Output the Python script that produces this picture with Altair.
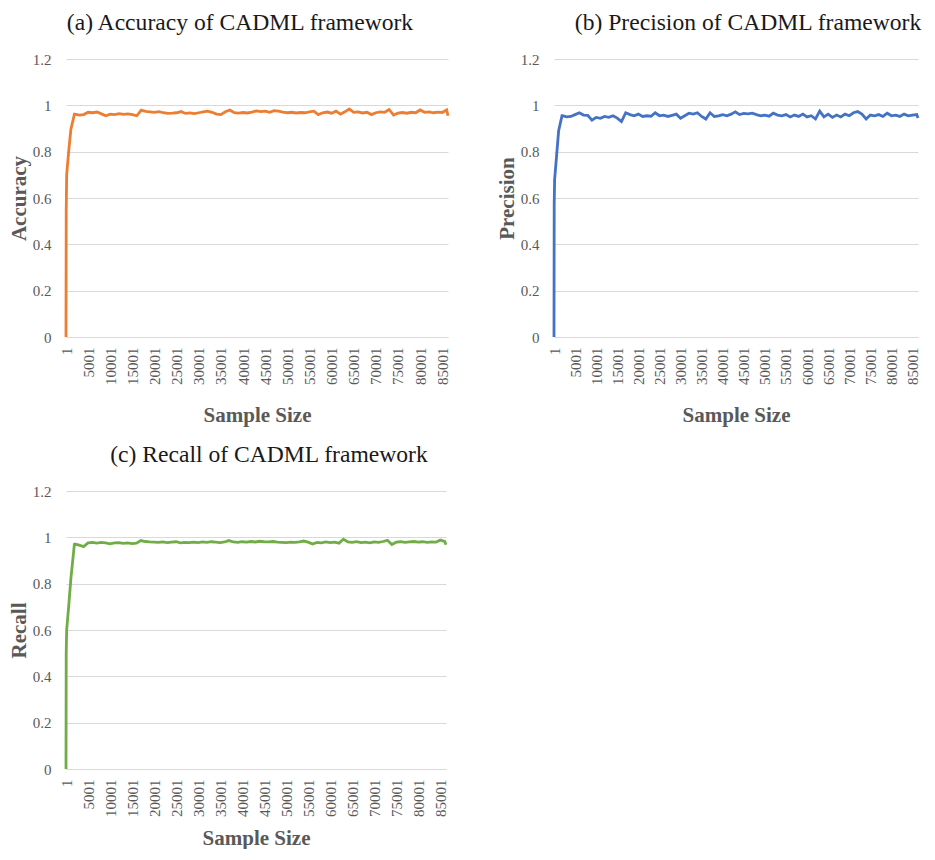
import altair as alt
import pandas as pd

# ---------------- data ----------------
ramp_x = [1, 51, 151, 601, 1101, 1901]
plateau_x = list(range(2001, 86002, 1000)) + [86301]
x_ticks = [1, 5001, 10001, 15001, 20001, 25001, 30001, 35001, 40001, 45001,
           50001, 55001, 60001, 65001, 70001, 75001, 80001, 85001]
y_ticks = [0, 0.2, 0.4, 0.6, 0.8, 1, 1.2]

acc_ramp = [0, 0.54, 0.70, 0.80, 0.896, 0.962]
acc_plateau = [
    0.962, 0.958, 0.960, 0.970, 0.968, 0.971, 0.963, 0.955, 0.962, 0.960,
    0.964, 0.961, 0.963, 0.960, 0.955, 0.979, 0.974, 0.972, 0.970, 0.973,
    0.968, 0.965, 0.966, 0.968, 0.973, 0.965, 0.967, 0.964, 0.968, 0.972,
    0.975, 0.970, 0.962, 0.960, 0.972, 0.980, 0.968, 0.966, 0.969, 0.967,
    0.971, 0.976, 0.973, 0.975, 0.970, 0.977, 0.975, 0.971, 0.968, 0.970,
    0.967, 0.969, 0.968, 0.972, 0.975, 0.960, 0.968, 0.971, 0.966, 0.975,
    0.962, 0.972, 0.984, 0.970, 0.972, 0.967, 0.970, 0.960, 0.968, 0.972,
    0.970, 0.982, 0.958, 0.966, 0.969, 0.966, 0.970, 0.968, 0.980, 0.970,
    0.972, 0.968, 0.971, 0.969, 0.980, 0.955,
]

prec_ramp = [0, 0.58, 0.68, 0.78, 0.89, 0.955]
prec_plateau = [
    0.955, 0.950, 0.952, 0.960, 0.968, 0.958, 0.957, 0.936, 0.948, 0.944,
    0.952, 0.948, 0.955, 0.945, 0.930, 0.968, 0.960, 0.955, 0.962, 0.952,
    0.955, 0.953, 0.968, 0.955, 0.958, 0.952, 0.957, 0.962, 0.944, 0.955,
    0.966, 0.962, 0.968, 0.952, 0.941, 0.968, 0.952, 0.955, 0.960, 0.955,
    0.962, 0.972, 0.960, 0.965, 0.963, 0.966, 0.960, 0.955, 0.958, 0.953,
    0.966, 0.958, 0.955, 0.960, 0.950, 0.958, 0.952, 0.962, 0.950, 0.955,
    0.941, 0.975, 0.950, 0.962, 0.948, 0.958, 0.950, 0.962, 0.955, 0.968,
    0.973, 0.962, 0.941, 0.958, 0.955, 0.960, 0.952, 0.966, 0.955, 0.958,
    0.952, 0.962, 0.955, 0.958, 0.960, 0.945,
]

rec_ramp = [0, 0.50, 0.60, 0.70, 0.82, 0.970]
rec_plateau = [
    0.971, 0.966, 0.960, 0.976, 0.978, 0.975, 0.978, 0.976, 0.972, 0.976,
    0.977, 0.974, 0.976, 0.973, 0.975, 0.986, 0.982, 0.980, 0.979, 0.978,
    0.980, 0.977, 0.979, 0.981, 0.976, 0.978, 0.977, 0.979, 0.977, 0.980,
    0.978, 0.981, 0.979, 0.977, 0.980, 0.986, 0.980, 0.978, 0.981, 0.979,
    0.982, 0.980, 0.983, 0.981, 0.980, 0.982, 0.979, 0.978, 0.977, 0.979,
    0.978, 0.980, 0.984, 0.979, 0.971, 0.978, 0.976, 0.980, 0.977, 0.979,
    0.975, 0.992, 0.980, 0.978, 0.981, 0.977, 0.979, 0.976, 0.980, 0.978,
    0.982, 0.987, 0.969, 0.979, 0.981, 0.978, 0.980, 0.982, 0.979, 0.981,
    0.978, 0.980, 0.979, 0.988, 0.982, 0.968,
]

FONT = "Liberation Serif"
GRID = "#D9D9D9"
AXIS_TXT = "#595959"


def make_df(ramp, plateau):
    return pd.DataFrame({"sample": ramp_x + plateau_x, "value": ramp + plateau})


def panel(df, color, title, ytitle, width, title_dx, xtitle_pad):
    return alt.Chart(df).mark_line(color=color, strokeWidth=2.8).encode(
        x=alt.X(
            "sample:Q",
            scale=alt.Scale(domain=[1, 86301], nice=False, zero=False),
            axis=alt.Axis(
                values=x_ticks, format="d", labelAngle=270, title="Sample Size",
                grid=False, ticks=False, domain=True, domainColor=GRID,
                labelPadding=10, titlePadding=xtitle_pad,
            ),
        ),
        y=alt.Y(
            "value:Q",
            scale=alt.Scale(domain=[0, 1.2], nice=False, zero=False),
            axis=alt.Axis(
                values=y_ticks, format="~g", title=ytitle, grid=True,
                gridColor=GRID, ticks=False, domain=False, labelPadding=15,
                titlePadding=3,
            ),
        ),
    ).properties(
        width=width,
        height=278,
        title=alt.TitleParams(title, anchor="middle", frame="group", dx=title_dx, offset=17),
    )


a = panel(make_df(acc_ramp, acc_plateau), "#ED7D31", "(a) Accuracy of CADML framework", "Accuracy", 382, -17, 20)
b = panel(make_df(prec_ramp, prec_plateau), "#4472C4", "(b) Precision of CADML framework", "Precision", 364, 12, 20)
c = panel(make_df(rec_ramp, rec_plateau), "#70AD47", "(c) Recall of CADML framework", "Recall", 380, 13, 11)

chart = alt.vconcat(
    alt.hconcat(a, b, spacing=42),
    c,
    spacing=17,
).properties(
    padding={"left": 0, "top": 3, "right": 0, "bottom": 0}
).configure_axis(
    labelFont=FONT, labelFontSize=15, labelColor=AXIS_TXT,
    titleFont=FONT, titleFontSize=21, titleFontWeight="bold", titleColor=AXIS_TXT,
).configure_title(
    font=FONT, fontSize=23.6, fontWeight="normal", color="#1a1a1a",
).configure_view(stroke=None)

chart.save("out.html", embed_options={"renderer": "svg", "actions": False})
